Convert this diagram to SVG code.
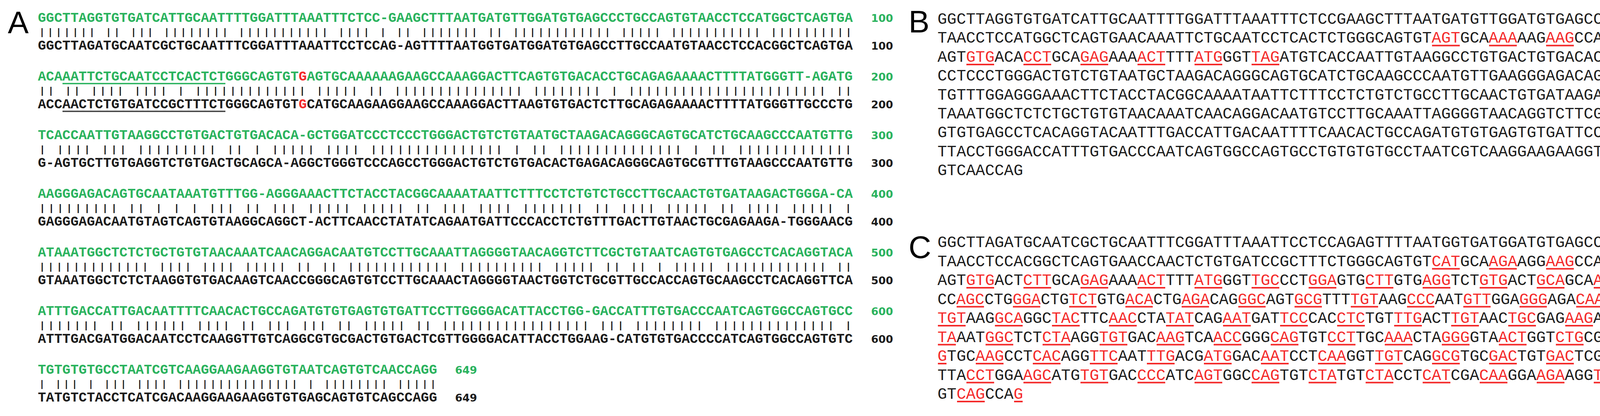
<svg xmlns="http://www.w3.org/2000/svg" width="4359" height="1064" viewBox="0 0 4359 1064" xml:space="preserve">
<style>
.sa{font-family:"Liberation Mono",monospace;font-size:34.76px;font-weight:bold}
.bar{font-family:"Liberation Mono",monospace;font-size:34.76px}
.g{fill:#2bb35e}.k{fill:#1c1c1c}.r{fill:#f42a2a}
.num{font-family:"DejaVu Sans",sans-serif;font-weight:bold;font-size:27px}
.sb{font-family:"Liberation Mono",monospace;font-size:40.54px;fill:#1c1c1c}
.lbl{font-family:"Liberation Sans",Arial,sans-serif;font-size:80px;fill:#000}
.ul{fill:#f42a2a}
</style>
<rect width="4359" height="1064" fill="#fff"/>
<g id="panelA">
<text class="lbl" x="20" y="85">A</text>
<g id="A-row1">
<text class="sa g" x="97" y="56" textLength="2086" lengthAdjust="spacingAndGlyphs">GGCTTAGGTGTGATCATTGCAATTTTGGATTTAAATTTCTCC-GAAGCTTTAATGATGTTGGATGTGAGCCCTGCCAGTGTAACCTCCATGGCTCAGTGA</text>
<text class="bar k" transform="matrix(1 0 0 0.7 97 90)" textLength="2086" lengthAdjust="spacingAndGlyphs">||||||| ||  |||  |||||||| ||||||||||| |||| | || ||||||| || |||||||||||| ||||| ||||||||||| ||||||||||</text>
<text class="sa k" x="97" y="127" textLength="2086" lengthAdjust="spacingAndGlyphs">GGCTTAGATGCAATCGCTGCAATTTCGGATTTAAATTCCTCCAG-AGTTTTAATGGTGATGGATGTGAGCCTTGCCAATGTAACCTCCACGGCTCAGTGA</text>
<text class="num g" x="2230" y="56">100</text><text class="num k" x="2230" y="127">100</text>
</g>
<g id="A-row2">
<text class="sa g" x="97" y="206" textLength="2086" lengthAdjust="spacingAndGlyphs">ACAAATTCTGCAATCCTCACTCTGGGCAGTGT<tspan class="r">G</tspan>AGTGCAAAAAAGAAGCCAAAGGACTTCAGTGTGACACCTGCAGAGAAAACTTTTATGGGTT-AGATG</text>
<rect x="160" y="212" width="417" height="3.5" fill="#2bb35e"/>
<text class="bar k" transform="matrix(1 0 0 0.7 97 240)" textLength="2086" lengthAdjust="spacingAndGlyphs">|| || ||||  |||| |  |||||||||||||  ||||| || ||||||||||||||| |||||||| | |||||||||||||||||||||||    ||</text>
<text class="sa k" x="97" y="277" textLength="2086" lengthAdjust="spacingAndGlyphs">ACCAACTCTGTGATCCGCTTTCTGGGCAGTGT<tspan class="r">G</tspan>CATGCAAGAAGGAAGCCAAAGGACTTAAGTGTGACTCTTGCAGAGAAAACTTTTATGGGTTGCCCTG</text>
<rect x="160" y="283" width="417" height="3.5" fill="#444"/>
<text class="num g" x="2230" y="206">200</text><text class="num k" x="2230" y="277">200</text>
</g>
<g id="A-row3">
<text class="sa g" x="97" y="356" textLength="2086" lengthAdjust="spacingAndGlyphs">TCACCAATTGTAAGGCCTGTGACTGTGACACA-GCTGGATCCCTCCCTGGGACTGTCTGTAATGCTAAGACAGGGCAGTGCATCTGCAAGCCCAATGTTG</text>
<text class="bar k" transform="matrix(1 0 0 0.7 97 390)" textLength="2086" lengthAdjust="spacingAndGlyphs">  |    |||| ||| |||||||||   || | ||||| ||||  ||||||||||||||| |  || |||||||||||||| | || |||||||||||||</text>
<text class="sa k" x="97" y="427" textLength="2086" lengthAdjust="spacingAndGlyphs">G-AGTGCTTGTGAGGTCTGTGACTGCAGCA-AGGCTGGGTCCCAGCCTGGGACTGTCTGTGACACTGAGACAGGGCAGTGCGTTTGTAAGCCCAATGTTG</text>
<text class="num g" x="2230" y="356">300</text><text class="num k" x="2230" y="427">300</text>
</g>
<g id="A-row4">
<text class="sa g" x="97" y="506" textLength="2086" lengthAdjust="spacingAndGlyphs">AAGGGAGACAGTGCAATAAATGTTTGG-AGGGAAACTTCTACCTACGGCAAAATAATTCTTTCCTCTGTCTGCCTTGCAACTGTGATAAGACTGGGA-CA</text>
<text class="bar k" transform="matrix(1 0 0 0.7 97 540)" textLength="2086" lengthAdjust="spacingAndGlyphs"> ||||||||| || | | | |||  || |||   ||||| |||||   || ||| ||||   ||||||| || |||| ||||| || |||| ||||| | </text>
<text class="sa k" x="97" y="577" textLength="2086" lengthAdjust="spacingAndGlyphs">GAGGGAGACAATGTAGTCAGTGTAAGGCAGGCT-ACTTCAACCTATATCAGAATGATTCCCACCTCTGTTTGACTTGTAACTGCGAGAAGA-TGGGAACG</text>
<text class="num g" x="2230" y="506">400</text><text class="num k" x="2230" y="577">400</text>
</g>
<g id="A-row5">
<text class="sa g" x="97" y="656" textLength="2086" lengthAdjust="spacingAndGlyphs">ATAAATGGCTCTCTGCTGTGTAACAAATCAACAGGACAATGTCCTTGCAAATTAGGGGTAACAGGTCTTCGCTGTAATCAGTGTGAGCCTCACAGGTACA</text>
<text class="bar k" transform="matrix(1 0 0 0.7 97 690)" textLength="2086" lengthAdjust="spacingAndGlyphs"> |||||||||||||   |||| |||| ||||| || || |||||||||||| |||||||||| ||||| || ||  | |||||  |||||||||||| ||</text>
<text class="sa k" x="97" y="727" textLength="2086" lengthAdjust="spacingAndGlyphs">GTAAATGGCTCTCTAAGGTGTGACAAGTCAACCGGGCAGTGTCCTTGCAAACTAGGGGTAACTGGTCTGCGTTGCCACCAGTGCAAGCCTCACAGGTTCA</text>
<text class="num g" x="2230" y="656">500</text><text class="num k" x="2230" y="727">500</text>
</g>
<g id="A-row6">
<text class="sa g" x="97" y="806" textLength="2086" lengthAdjust="spacingAndGlyphs">ATTTGACCATTGACAATTTTCAACACTGCCAGATGTGTGAGTGTGATTCCTTGGGGACATTACCTGG-GACCATTTGTGACCCAATCAGTGGCCAGTGCC</text>
<text class="bar k" transform="matrix(1 0 0 0.7 97 840)" textLength="2086" lengthAdjust="spacingAndGlyphs">||||||| || ||||||  ||||   || |||  ||| || ||||| || |||||||||||||||||    ||| |||||||| |||||||||||||| |</text>
<text class="sa k" x="97" y="877" textLength="2086" lengthAdjust="spacingAndGlyphs">ATTTGACGATGGACAATCCTCAAGGTTGTCAGGCGTGCGACTGTGACTCGTTGGGGACATTACCTGGAAG-CATGTGTGACCCCATCAGTGGCCAGTGTC</text>
<text class="num g" x="2230" y="806">600</text><text class="num k" x="2230" y="877">600</text>
</g>
<g id="A-row7">
<text class="sa g" x="97" y="956" textLength="1022" lengthAdjust="spacingAndGlyphs">TGTGTGTGCCTAATCGTCAAGGAAGAAGGTGTAATCAGTGTCAACCAGG</text>
<text class="bar k" transform="matrix(1 0 0 0.7 97 990)" textLength="1022" lengthAdjust="spacingAndGlyphs">| ||| | ||| |||| ||||||||||||||| | |||||||| |||||</text>
<text class="sa k" x="97" y="1027" textLength="1022" lengthAdjust="spacingAndGlyphs">TATGTCTACCTCATCGACAAGGAAGAAGGTGTGAGCAGTGTCAGCCAGG</text>
<text class="num g" x="1165" y="956">649</text><text class="num k" x="1165" y="1027">649</text>
</g>
</g>
<g id="panelB">
<text class="lbl" x="2326" y="83">B</text>
<text class="sb" x="2400" y="61" textLength="1922" lengthAdjust="spacingAndGlyphs">GGCTTAGGTGTGATCATTGCAATTTTGGATTTAAATTTCTCCGAAGCTTTAATGATGTTGGATGTGAGCCCTGCCAGTG</text>
<text class="sb" x="2400" y="109.4" textLength="1922" lengthAdjust="spacingAndGlyphs">TAACCTCCATGGCTCAGTGAACAAATTCTGCAATCCTCACTCTGGGCAGTGT<tspan class="r">AGT</tspan>GCA<tspan class="r">AAA</tspan>AAG<tspan class="r">AAG</tspan>CCA<tspan class="r">AAG</tspan>GAC<tspan class="r">TTC</tspan></text>
<text class="sb" x="2400" y="157.8" textLength="1922" lengthAdjust="spacingAndGlyphs">AGT<tspan class="r">GTG</tspan>ACA<tspan class="r">CCT</tspan>GCA<tspan class="r">GAG</tspan>AAA<tspan class="r">ACT</tspan>TTT<tspan class="r">ATG</tspan>GGT<tspan class="r">TAG</tspan>ATGTCACCAATTGTAAGGCCTGTGACTGTGACACAGCTGGATC</text>
<text class="sb" x="2400" y="206.2" textLength="1922" lengthAdjust="spacingAndGlyphs">CCTCCCTGGGACTGTCTGTAATGCTAAGACAGGGCAGTGCATCTGCAAGCCCAATGTTGAAGGGAGACAGTGCAATAAA</text>
<text class="sb" x="2400" y="254.6" textLength="1922" lengthAdjust="spacingAndGlyphs">TGTTTGGAGGGAAACTTCTACCTACGGCAAAATAATTCTTTCCTCTGTCTGCCTTGCAACTGTGATAAGACTGGGACAA</text>
<text class="sb" x="2400" y="303" textLength="1922" lengthAdjust="spacingAndGlyphs">TAAATGGCTCTCTGCTGTGTAACAAATCAACAGGACAATGTCCTTGCAAATTAGGGGTAACAGGTCTTCGCTGTAATCA</text>
<text class="sb" x="2400" y="351.4" textLength="1922" lengthAdjust="spacingAndGlyphs">GTGTGAGCCTCACAGGTACAATTTGACCATTGACAATTTTCAACACTGCCAGATGTGTGAGTGTGATTCCTTGGGGACA</text>
<text class="sb" x="2400" y="399.8" textLength="1922" lengthAdjust="spacingAndGlyphs">TTACCTGGGACCATTTGTGACCCAATCAGTGGCCAGTGCCTGTGTGTGCCTAATCGTCAAGGAAGAAGGTGTAATCAGT</text>
<text class="sb" x="2400" y="448.2" textLength="219" lengthAdjust="spacingAndGlyphs">GTCAACCAG</text>
<g class="ul">
<rect x="3666" y="114.5" width="71" height="4"/><rect x="3812" y="114.5" width="71" height="4"/><rect x="3958" y="114.5" width="71" height="4"/><rect x="4104" y="114.5" width="71" height="4"/><rect x="4250" y="114.5" width="71" height="4"/>
<rect x="2474" y="163" width="71" height="4"/><rect x="2620" y="163" width="71" height="4"/><rect x="2766" y="163" width="71" height="4"/><rect x="2912" y="163" width="71" height="4"/><rect x="3058" y="163" width="71" height="4"/><rect x="3204" y="163" width="71" height="4"/>
</g>
</g>
<g id="panelC">
<text class="lbl" x="2326" y="660">C</text>
<text class="sb" x="2400" y="632" textLength="1922" lengthAdjust="spacingAndGlyphs">GGCTTAGATGCAATCGCTGCAATTTCGGATTTAAATTCCTCCAGAGTTTTAATGGTGATGGATGTGAGCCTTGCCAATG</text>
<text class="sb" x="2400" y="680.5" textLength="1922" lengthAdjust="spacingAndGlyphs">TAACCTCCACGGCTCAGTGAACCAACTCTGTGATCCGCTTTCTGGGCAGTGT<tspan class="r">CAT</tspan>GCA<tspan class="r">AGA</tspan>AGG<tspan class="r">AAG</tspan>CCA<tspan class="r">AAG</tspan>GAC<tspan class="r">TTA</tspan></text>
<text class="sb" x="2400" y="729" textLength="1922" lengthAdjust="spacingAndGlyphs">AGT<tspan class="r">GTG</tspan>ACT<tspan class="r">CTT</tspan>GCA<tspan class="r">GAG</tspan>AAA<tspan class="r">ACT</tspan>TTT<tspan class="r">ATG</tspan>GGT<tspan class="r">TGC</tspan>CCT<tspan class="r">GGA</tspan>GTG<tspan class="r">CTT</tspan>GTG<tspan class="r">AGG</tspan>TCT<tspan class="r">GTG</tspan>ACT<tspan class="r">GCA</tspan>GCA<tspan class="r">AGG</tspan>CTG<tspan class="r">GGT</tspan>C</text>
<text class="sb" x="2400" y="777.5" textLength="1922" lengthAdjust="spacingAndGlyphs">CC<tspan class="r">AGC</tspan>CTG<tspan class="r">GGA</tspan>CTG<tspan class="r">TCT</tspan>GTG<tspan class="r">ACA</tspan>CTG<tspan class="r">AGA</tspan>CAG<tspan class="r">GGC</tspan>AGT<tspan class="r">GCG</tspan>TTT<tspan class="r">TGT</tspan>AAG<tspan class="r">CCC</tspan>AAT<tspan class="r">GTT</tspan>GGA<tspan class="r">GGG</tspan>AGA<tspan class="r">CAA</tspan>TGT<tspan class="r">AGT</tspan>CAG</text>
<text class="sb" x="2400" y="826" textLength="1922" lengthAdjust="spacingAndGlyphs"><tspan class="r">TGT</tspan>AAG<tspan class="r">GCA</tspan>GGC<tspan class="r">TAC</tspan>TTC<tspan class="r">AAC</tspan>CTA<tspan class="r">TAT</tspan>CAG<tspan class="r">AAT</tspan>GAT<tspan class="r">TCC</tspan>CAC<tspan class="r">CTC</tspan>TGT<tspan class="r">TTG</tspan>ACT<tspan class="r">TGT</tspan>AAC<tspan class="r">TGC</tspan>GAG<tspan class="r">AAG</tspan>ATG<tspan class="r">GGA</tspan>ACG<tspan class="r">G</tspan></text>
<text class="sb" x="2400" y="874.5" textLength="1922" lengthAdjust="spacingAndGlyphs"><tspan class="r">TA</tspan>AAT<tspan class="r">GGC</tspan>TCT<tspan class="r">CTA</tspan>AGG<tspan class="r">TGT</tspan>GAC<tspan class="r">AAG</tspan>TCA<tspan class="r">ACC</tspan>GGG<tspan class="r">CAG</tspan>TGT<tspan class="r">CCT</tspan>TGC<tspan class="r">AAA</tspan>CTA<tspan class="r">GGG</tspan>GTA<tspan class="r">ACT</tspan>GGT<tspan class="r">CTG</tspan>CGT<tspan class="r">TGC</tspan>CAC<tspan class="r">CA</tspan></text>
<text class="sb" x="2400" y="923" textLength="1922" lengthAdjust="spacingAndGlyphs"><tspan class="r">G</tspan>TGC<tspan class="r">AAG</tspan>CCT<tspan class="r">CAC</tspan>AGG<tspan class="r">TTC</tspan>AAT<tspan class="r">TTG</tspan>ACG<tspan class="r">ATG</tspan>GAC<tspan class="r">AAT</tspan>CCT<tspan class="r">CAA</tspan>GGT<tspan class="r">TGT</tspan>CAG<tspan class="r">GCG</tspan>TGC<tspan class="r">GAC</tspan>TGT<tspan class="r">GAC</tspan>TCG<tspan class="r">TTG</tspan>GGG<tspan class="r">ACA</tspan></text>
<text class="sb" x="2400" y="971.5" textLength="1922" lengthAdjust="spacingAndGlyphs">TTA<tspan class="r">CCT</tspan>GGA<tspan class="r">AGC</tspan>ATG<tspan class="r">TGT</tspan>GAC<tspan class="r">CCC</tspan>ATC<tspan class="r">AGT</tspan>GGC<tspan class="r">CAG</tspan>TGT<tspan class="r">CTA</tspan>TGT<tspan class="r">CTA</tspan>CCT<tspan class="r">CAT</tspan>CGA<tspan class="r">CAA</tspan>GGA<tspan class="r">AGA</tspan>AGG<tspan class="r">TGT</tspan>GAG<tspan class="r">CAG</tspan>T</text>
<text class="sb" x="2400" y="1020" textLength="219" lengthAdjust="spacingAndGlyphs">GT<tspan class="r">CAG</tspan>CCA<tspan class="r">G</tspan></text>
<g class="ul">
<rect x="3666" y="685.5" width="71" height="4"/><rect x="3812" y="685.5" width="71" height="4"/><rect x="3958" y="685.5" width="71" height="4"/><rect x="4104" y="685.5" width="71" height="4"/><rect x="4250" y="685.5" width="71" height="4"/>
<rect x="2474" y="734" width="71" height="4"/><rect x="2620" y="734" width="71" height="4"/><rect x="2766" y="734" width="71" height="4"/><rect x="2912" y="734" width="71" height="4"/><rect x="3058" y="734" width="71" height="4"/><rect x="3204" y="734" width="71" height="4"/><rect x="3350" y="734" width="71" height="4"/><rect x="3496" y="734" width="71" height="4"/><rect x="3642" y="734" width="71" height="4"/><rect x="3788" y="734" width="71" height="4"/><rect x="3934" y="734" width="71" height="4"/><rect x="4080" y="734" width="71" height="4"/><rect x="4226" y="734" width="71" height="4"/>
<rect x="2449" y="782.5" width="70" height="4"/><rect x="2593" y="782.5" width="70" height="4"/><rect x="2737" y="782.5" width="70" height="4"/><rect x="2881" y="782.5" width="70" height="4"/><rect x="3025" y="782.5" width="70" height="4"/><rect x="3170" y="782.5" width="70" height="4"/><rect x="3314" y="782.5" width="70" height="4"/><rect x="3458" y="782.5" width="70" height="4"/><rect x="3602" y="782.5" width="70" height="4"/><rect x="3746" y="782.5" width="70" height="4"/><rect x="3890" y="782.5" width="70" height="4"/><rect x="4035" y="782.5" width="70" height="4"/><rect x="4179" y="782.5" width="70" height="4"/>
<rect x="2401" y="831" width="71" height="4"/><rect x="2547" y="831" width="71" height="4"/><rect x="2693" y="831" width="71" height="4"/><rect x="2839" y="831" width="71" height="4"/><rect x="2985" y="831" width="71" height="4"/><rect x="3131" y="831" width="71" height="4"/><rect x="3277" y="831" width="71" height="4"/><rect x="3423" y="831" width="71" height="4"/><rect x="3569" y="831" width="71" height="4"/><rect x="3715" y="831" width="71" height="4"/><rect x="3861" y="831" width="71" height="4"/><rect x="4007" y="831" width="71" height="4"/><rect x="4153" y="831" width="71" height="4"/><rect x="4299" y="831" width="22" height="4"/>
<rect x="2401" y="879.5" width="46" height="4"/><rect x="2523" y="879.5" width="71" height="4"/><rect x="2669" y="879.5" width="71" height="4"/><rect x="2815" y="879.5" width="71" height="4"/><rect x="2961" y="879.5" width="71" height="4"/><rect x="3107" y="879.5" width="71" height="4"/><rect x="3253" y="879.5" width="71" height="4"/><rect x="3399" y="879.5" width="71" height="4"/><rect x="3545" y="879.5" width="71" height="4"/><rect x="3691" y="879.5" width="71" height="4"/><rect x="3837" y="879.5" width="71" height="4"/><rect x="3983" y="879.5" width="71" height="4"/><rect x="4128" y="879.5" width="71" height="4"/><rect x="4274" y="879.5" width="46" height="4"/>
<rect x="2401" y="928" width="22" height="4"/><rect x="2498" y="928" width="71" height="4"/><rect x="2644" y="928" width="71" height="4"/><rect x="2790" y="928" width="71" height="4"/><rect x="2936" y="928" width="71" height="4"/><rect x="3082" y="928" width="71" height="4"/><rect x="3228" y="928" width="71" height="4"/><rect x="3374" y="928" width="71" height="4"/><rect x="3520" y="928" width="71" height="4"/><rect x="3666" y="928" width="71" height="4"/><rect x="3812" y="928" width="71" height="4"/><rect x="3958" y="928" width="71" height="4"/><rect x="4104" y="928" width="71" height="4"/><rect x="4250" y="928" width="71" height="4"/>
<rect x="2474" y="976.5" width="71" height="4"/><rect x="2620" y="976.5" width="71" height="4"/><rect x="2766" y="976.5" width="71" height="4"/><rect x="2912" y="976.5" width="71" height="4"/><rect x="3058" y="976.5" width="71" height="4"/><rect x="3204" y="976.5" width="71" height="4"/><rect x="3350" y="976.5" width="71" height="4"/><rect x="3496" y="976.5" width="71" height="4"/><rect x="3642" y="976.5" width="71" height="4"/><rect x="3788" y="976.5" width="71" height="4"/><rect x="3934" y="976.5" width="71" height="4"/><rect x="4080" y="976.5" width="71" height="4"/><rect x="4226" y="976.5" width="71" height="4"/>
<rect x="2450" y="1025" width="71" height="4"/><rect x="2596" y="1025" width="22" height="4"/>
</g>
</g>
</svg>
